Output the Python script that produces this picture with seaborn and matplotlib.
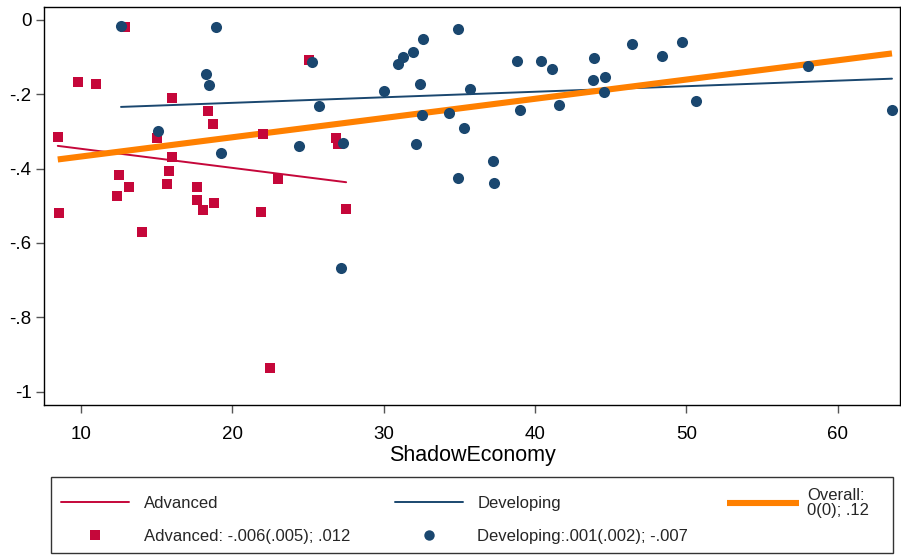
import matplotlib
matplotlib.use("Agg")
import matplotlib.pyplot as plt
import seaborn as sns
import pandas as pd
from matplotlib.lines import Line2D
from matplotlib.patches import Rectangle

# ---------------- data ----------------
adv_x = [12.91, 9.78, 10.97, 8.46, 8.57, 16.0, 18.42, 18.70, 15.0, 16.0,
         12.49, 15.80, 13.17, 15.68, 12.40, 17.69, 17.69, 18.08, 18.81, 14.01,
         22.01, 23.02, 21.92, 25.05, 26.83, 27.01, 27.52, 22.49]
adv_y = [-0.019, -0.168, -0.174, -0.314, -0.519, -0.211, -0.245, -0.280, -0.317, -0.370,
         -0.418, -0.407, -0.451, -0.442, -0.474, -0.449, -0.484, -0.512, -0.494, -0.571,
         -0.307, -0.427, -0.518, -0.107, -0.319, -0.335, -0.509, -0.935]

dev_x = [12.64, 18.90, 18.28, 18.48, 25.29, 25.71, 15.07, 19.28, 24.39, 27.30,
         27.18, 30.00, 30.93, 31.30, 31.92, 32.60, 32.41, 32.52, 32.12, 34.92,
         34.34, 35.31, 35.71, 34.92, 37.21, 37.32, 38.84, 39.04, 40.43, 41.15,
         41.61, 43.93, 43.82, 44.65, 44.54, 46.44, 48.38, 49.74, 50.67, 58.05,
         63.60]
dev_y = [-0.017, -0.019, -0.145, -0.176, -0.113, -0.232, -0.298, -0.357, -0.339, -0.331,
         -0.667, -0.192, -0.119, -0.100, -0.086, -0.052, -0.174, -0.257, -0.334, -0.025,
         -0.250, -0.292, -0.187, -0.425, -0.379, -0.438, -0.110, -0.242, -0.112, -0.133,
         -0.230, -0.102, -0.162, -0.155, -0.195, -0.065, -0.098, -0.059, -0.219, -0.124,
         -0.242]

xticks = [10, 20, 30, 40, 50, 60]
yticks = [0, -0.2, -0.4, -0.6, -0.8, -1.0]
ytick_labels = ["0", "-.2", "-.4", "-.6", "-.8", "-1"]

xlabel = "ShadowEconomy"
lab_adv_line = "Advanced"
lab_dev_line = "Developing"
lab_overall = "Overall:\n0(0); .12"
lab_adv_pts = "Advanced: -.006(.005); .012"
lab_dev_pts = "Developing:.001(.002); -.007"

RED = "#C5073A"
BLUE = "#1A476F"
ORANGE = "#FF8000"

# ---------------- frames ----------------
df_adv = pd.DataFrame({"x": adv_x, "y": adv_y})
df_dev = pd.DataFrame({"x": dev_x, "y": dev_y})
df_all = pd.concat([df_adv, df_dev], ignore_index=True)

sns.set_theme(style="white")
plt.rcParams["font.family"] = ["Liberation Sans", "DejaVu Sans"]

W, H = 901, 555
fig = plt.figure(figsize=(W / 100, H / 100), dpi=100)
left, right, top, bottom = 44, 900, 6.7, 404.7
ax = fig.add_axes([left / W, 1 - bottom / H, (right - left) / W, (bottom - top) / H])

# fitted lines
sns.regplot(data=df_adv, x="x", y="y", scatter=False, ci=None, ax=ax,
            line_kws=dict(color=RED, lw=1.4, zorder=2))
sns.regplot(data=df_dev, x="x", y="y", scatter=False, ci=None, ax=ax,
            line_kws=dict(color=BLUE, lw=1.4, zorder=2))
sns.regplot(data=df_all, x="x", y="y", scatter=False, ci=None, ax=ax,
            line_kws=dict(color=ORANGE, lw=4.4, zorder=3, solid_capstyle="butt"))

# points
sns.scatterplot(data=df_adv, x="x", y="y", marker="s", s=44, color=RED,
                linewidth=0, ax=ax, zorder=4, legend=False)
sns.scatterplot(data=df_dev, x="x", y="y", marker="o", s=64, color=BLUE,
                linewidth=0, ax=ax, zorder=5, legend=False)

ax.set_xlim(7.55, 64.13)
ax.set_ylim(-1.035, 0.035)
ax.set_xticks(xticks)
ax.set_xticklabels([str(t) for t in xticks])
ax.set_yticks(yticks)
ax.set_yticklabels(ytick_labels)
ax.tick_params(axis="both", direction="out", length=6, width=1, color="#555555",
               labelsize=13.5, labelcolor="black")
ax.tick_params(axis="x", bottom=True, pad=9)
ax.tick_params(axis="y", left=True, pad=3)
for sp in ax.spines.values():
    sp.set_visible(True)
    sp.set_color("black")
    sp.set_linewidth(1.0)
ax.set_xlabel(xlabel, fontsize=15.5, labelpad=1.5, color="black")
ax.set_ylabel("")

# ---------------- legend ----------------
fig.add_artist(Rectangle((51 / W, (H - 553) / H), (893 - 51) / W, (553 - 477) / H,
                         transform=fig.transFigure, fill=False,
                         edgecolor="#333333", lw=1.0))

h_adv_line = Line2D([], [], color=RED, lw=1.4)
h_adv_pt = Line2D([], [], color=RED, marker="s", ls="none", markersize=6.5, markeredgewidth=0)
h_dev_line = Line2D([], [], color=BLUE, lw=1.4)
h_dev_pt = Line2D([], [], color=BLUE, marker="o", ls="none", markersize=7.5, markeredgewidth=0)
h_ov = Line2D([], [], color=ORANGE, lw=4.4, solid_capstyle="butt")

leg1 = fig.legend([h_adv_line, h_adv_pt, h_dev_line, h_dev_pt],
                  [lab_adv_line, lab_adv_pts, lab_dev_line, lab_dev_pts],
                  ncol=2, loc="center left", bbox_to_anchor=(61 / W, 1 - 520 / H),
                  frameon=False, fontsize=12, handlelength=4.1, handletextpad=0.85,
                  columnspacing=2.7, labelspacing=1.1, borderpad=0, borderaxespad=0)
leg2 = fig.legend([h_ov], [lab_overall], loc="center left",
                  bbox_to_anchor=(727 / W, 1 - 503 / H), frameon=False, fontsize=12,
                  handlelength=4.3, handletextpad=0.5, borderpad=0, borderaxespad=0)
for t in leg2.get_texts():
    t.set_linespacing(1.05)

fig.savefig("out.png", dpi=100)
